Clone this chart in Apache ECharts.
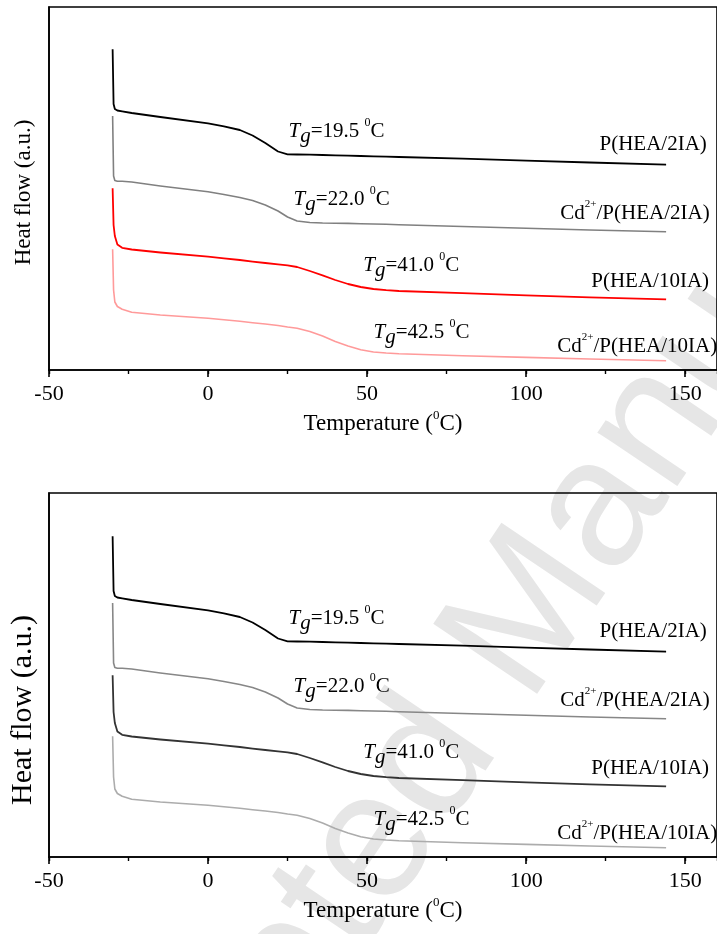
<!DOCTYPE html>
<html>
<head>
<meta charset="utf-8">
<script src="https://cdn.jsdelivr.net/npm/echarts@6/dist/echarts.min.js"></script>
<style>
html, body { margin: 0; padding: 0; background: #fff; }
#chart { width: 717px; height: 934px; }
</style>
</head>
<body>
<div id="chart"></div>
<script>
// temperature grid (°C) shared by the four DSC traces
var temps = [-30, -29.7, -29.3, -28.5, -27, -24, -15, 0, 5, 10, 14, 18, 22, 25, 28, 32, 36, 40, 44, 48, 52, 56, 60, 80, 100, 120, 144];
// heat flow (a.u.)
var flowHEA2 = [320.7, 266, 261, 259.5, 258.7, 257, 253, 246.7, 243.7, 240, 234.5, 227, 218.5, 215.7, 215.5, 215.3, 215, 214.7, 214.4, 214, 213.7, 213.4, 213, 211.3, 209.4, 207.5, 205.3];
var flowCdHEA2 = [254, 194, 189.5, 188.7, 188.8, 188, 184, 178.3, 175.5, 172.5, 169.5, 165, 159, 153, 149, 147.5, 147, 146.8, 146.6, 146.3, 146, 145.7, 145.3, 143.5, 141.8, 140, 138.3];
var flowHEA10 = [181.7, 145, 134, 125.5, 122.2, 120.5, 117.5, 113.3, 111.7, 110, 108.4, 107, 105.7, 104.7, 103, 99, 94.7, 90, 86, 83, 81, 79.8, 79, 76.8, 74.7, 72.7, 70.7];
var flowCdHEA10 = [120.7, 80, 68, 63.5, 60.8, 57.8, 55, 51.7, 50.2, 48.7, 47.3, 46, 44.5, 43, 41.8, 38.5, 34, 28.5, 24, 20.2, 18, 17, 16.3, 14.3, 12.6, 11, 9.3];

var sampleNames = ['P(HEA/2IA)', 'Cd2+/P(HEA/2IA)', 'P(HEA/10IA)', 'Cd2+/P(HEA/10IA)'];
var sampleLabels = ['{n|P(HEA/2IA)}', '{n|Cd}{p|2+}{n|/P(HEA/2IA)}', '{n|P(HEA/10IA)}', '{n|Cd}{p|2+}{n|/P(HEA/10IA)}'];
var tgValues = ['19.5', '22.0', '41.0', '42.5'];
var tgAt = [[25.3, 238.3], [26.9, 170.3], [48.8, 104.2], [52, 37.5]];
var nameAt = [[156.8, 226], [157.7, 156.7], [157.5, 89], [109.8, 23.3]];
var nameAlign = ['right', 'right', 'right', 'left'];

var xMin = -50, xMax = 160, xStep = 50, xMinorStep = 25;

var colorsTop = ['#000000', '#808080', '#ff0000', '#ff9a9a'];
var colorsBottom = ['#000000', '#878787', '#333333', '#acacac'];
var widths = [1.8, 1.6, 1.8, 1.6];

var serif = '"Liberation Serif", "Times New Roman", serif';
var flows = [flowHEA2, flowCdHEA2, flowHEA10, flowCdHEA10];

var rich = {
	n: {fontFamily: serif, fontSize: 21, color: '#000', lineHeight: 30},
	i: {fontFamily: serif, fontSize: 21, fontStyle: 'italic', color: '#000', lineHeight: 30},
	g: {fontFamily: serif, fontSize: 21, fontStyle: 'italic', color: '#000', lineHeight: 18, verticalAlign: 'bottom'},
	s: {fontFamily: serif, fontSize: 12, color: '#000', lineHeight: 26, verticalAlign: 'top'},
	p: {fontFamily: serif, fontSize: 11, color: '#000', lineHeight: 20, verticalAlign: 'top'}
};

function pairs(ys){
	var out = [];
	for(var i = 0; i < temps.length; i++){
		out.push([temps[i], ys[i]]);
	}
	return out;
}

function buildSeries(xIdx, yIdx, colors){
	var list = [];
	for(var k = 0; k < flows.length; k++){
		list.push({
			name: sampleNames[k],
			type: 'line',
			xAxisIndex: xIdx,
			yAxisIndex: yIdx,
			data: pairs(flows[k]),
			showSymbol: false,
			symbol: 'none',
			smooth: false,
			silent: true,
			z: 3,
			lineStyle: {color: colors[k], width: widths[k], join: 'round'},
			markPoint: {
				symbol: 'circle',
				symbolSize: 1,
				silent: true,
				itemStyle: {color: 'rgba(0,0,0,0)'},
				data: [
					{
						coord: tgAt[k],
						label: {show: true, position: 'inside', align: 'left', verticalAlign: 'middle',
							formatter: '{i|T}{g|g}{n|=' + tgValues[k] + ' }{s|0}{n|C}', rich: rich}
					},
					{
						coord: nameAt[k],
						label: {show: true, position: 'inside', align: nameAlign[k], verticalAlign: 'middle',
							formatter: sampleLabels[k], rich: rich}
					}
				]
			}
		});
	}
	return list;
}

function mainX(gridIdx){
	return {
		type: 'value', gridIndex: gridIdx, position: 'bottom',
		min: xMin, max: xMax, interval: xStep,
		name: '{a|Temperature (}{b|0}{a|C)}',
		nameLocation: 'middle', nameGap: 39,
		nameTextStyle: {
			rich: {
				a: {fontFamily: serif, fontSize: 23, color: '#000', lineHeight: 30},
				b: {fontFamily: serif, fontSize: 13, color: '#000', lineHeight: 12, verticalAlign: 'top'}
			}
		},
		axisLine: {show: true, onZero: false, lineStyle: {color: '#000', width: 1.6}},
		axisTick: {show: true, length: 7, lineStyle: {color: '#000', width: 1.6}},
		axisLabel: {margin: 13, fontFamily: serif, fontSize: 22, color: '#000', showMaxLabel: false},
		splitLine: {show: false}
	};
}

function minorX(gridIdx){
	return {
		type: 'value', gridIndex: gridIdx, position: 'bottom',
		min: xMin, max: xMax, interval: xMinorStep,
		axisLine: {show: false, onZero: false},
		axisTick: {show: true, length: 4, lineStyle: {color: '#000', width: 1.4}},
		axisLabel: {show: false},
		splitLine: {show: false}
	};
}

function yAx(gridIdx, top, nameSize, gap, shift){
	return {
		type: 'value', gridIndex: gridIdx, min: 0, max: top,
		name: 'Heat flow (a.u.)', nameLocation: 'middle', nameGap: gap,
		nameTextStyle: {fontFamily: serif, fontSize: nameSize, color: '#000', padding: [0, shift, 0, 0]},
		axisLine: {show: true, onZero: false, lineStyle: {color: '#000', width: 1.6}},
		axisTick: {show: false},
		axisLabel: {show: false},
		splitLine: {show: false}
	};
}

var myChart = echarts.init(document.getElementById('chart'));
var option = {
	animation: false,
	backgroundColor: '#fff',
	graphic: [{
		type: 'text',
		x: 110, y: 1400,
		rotation: 56 * Math.PI / 180,
		z: -10,
		silent: true,
		style: {text: 'Accepted Manuscript', font: '182px "Liberation Sans"', fill: '#e6e6e6', verticalAlign: 'bottom'}
	}],
	grid: [
		{left: 49, top: 7, right: -4, height: 363, show: true, borderColor: '#000', borderWidth: 1.6, backgroundColor: 'transparent'},
		{left: 49, top: 493, right: -4, height: 364, show: true, borderColor: '#000', borderWidth: 1.6, backgroundColor: 'transparent'}
	],
	xAxis: [mainX(0), minorX(0), mainX(1), minorX(1)],
	yAxis: [yAx(0, 363, 23, 14, 8), yAx(1, 364, 30, 11, 70)],
	series: buildSeries(0, 0, colorsTop).concat(buildSeries(2, 1, colorsBottom))
};
myChart.setOption(option);
</script>
</body>
</html>
